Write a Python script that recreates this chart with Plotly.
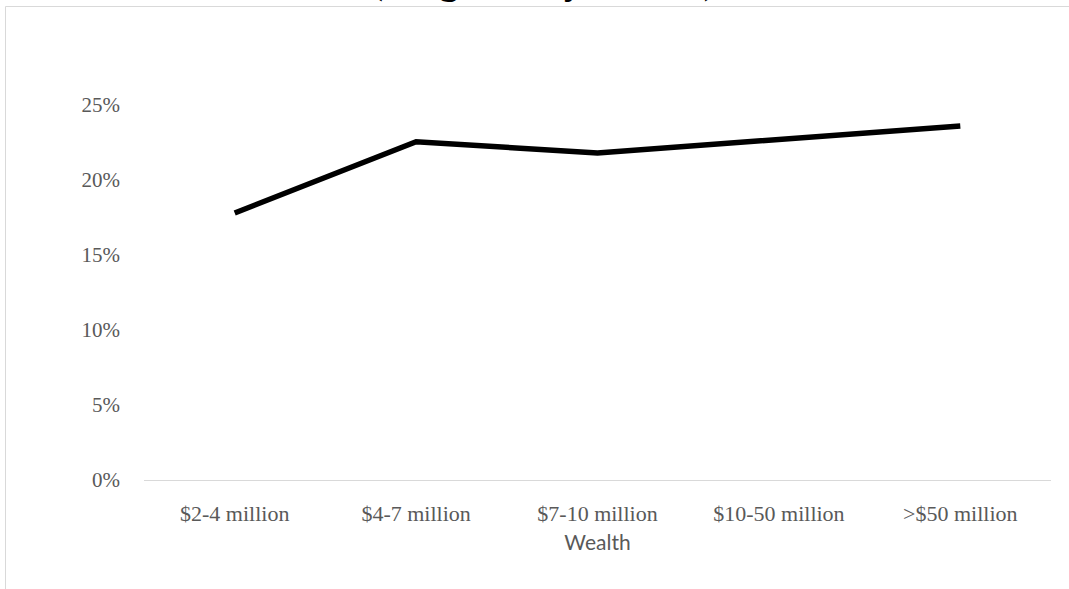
import plotly.graph_objects as go

# Wealth brackets and the share plotted for each
categories = ["$2-4 million", "$4-7 million", "$7-10 million", "$10-50 million", ">$50 million"]
shares = [0.178, 0.2255, 0.218, 0.2267, 0.236]
y_ticks = [0, 0.05, 0.10, 0.15, 0.20, 0.25]
y_tick_labels = ["0%", "5%", "10%", "15%", "20%", "25%"]

W, H = 1069, 589
ML, MR, MT, MB = 144, 18, 105, 109
plot_w = W - ML - MR
plot_h = H - MT - MB


def px_to_paper_x(p):
    return (p - ML) / plot_w


def px_to_paper_y(p):
    return (H - MB - p) / plot_h


serif = "Liberation Serif, Times New Roman, serif"

fig = go.Figure()
fig.add_trace(go.Scatter(
    x=categories,
    y=shares,
    mode="lines",
    line=dict(color="#000000", width=5.5),
    hoverinfo="skip",
    showlegend=False,
))

fig.update_layout(
    width=W,
    height=H,
    margin=dict(l=ML, r=MR, t=MT, b=MB),
    paper_bgcolor="#ffffff",
    plot_bgcolor="#ffffff",
    xaxis=dict(
        type="category",
        range=[-0.5, len(categories) - 0.5],
        showline=True,
        linecolor="#d9d9d9",
        linewidth=1.3,
        showgrid=False,
        zeroline=False,
        ticks="",
        ticklabelstandoff=13,
        tickfont=dict(family=serif, size=22, color="#595959"),
        title=dict(text="Wealth", standoff=10,
                   font=dict(family="Lato, Open Sans, sans-serif", size=21, color="#595959")),
    ),
    yaxis=dict(
        range=[0, 0.25],
        tickvals=y_ticks,
        ticktext=y_tick_labels,
        showline=False,
        showgrid=False,
        zeroline=False,
        ticks="",
        ticklabelstandoff=23,
        tickfont=dict(family=serif, size=21, color="#595959"),
    ),
    annotations=[dict(
        text="<b>(weighted by wealth)</b>",
        xref="paper", yref="paper",
        x=px_to_paper_x(543), y=px_to_paper_y(-19.5),
        xanchor="center", yanchor="middle",
        showarrow=False,
        font=dict(family=serif, size=39, color="#000000"),
    )],
    shapes=[dict(
        type="rect",
        xref="paper", yref="paper",
        x0=px_to_paper_x(5.5), x1=px_to_paper_x(1085),
        y0=px_to_paper_y(600), y1=px_to_paper_y(6.5),
        line=dict(color="#d9d9d9", width=1),
        fillcolor="rgba(0,0,0,0)",
        layer="below",
    )],
)

fig.write_html("out.html")
